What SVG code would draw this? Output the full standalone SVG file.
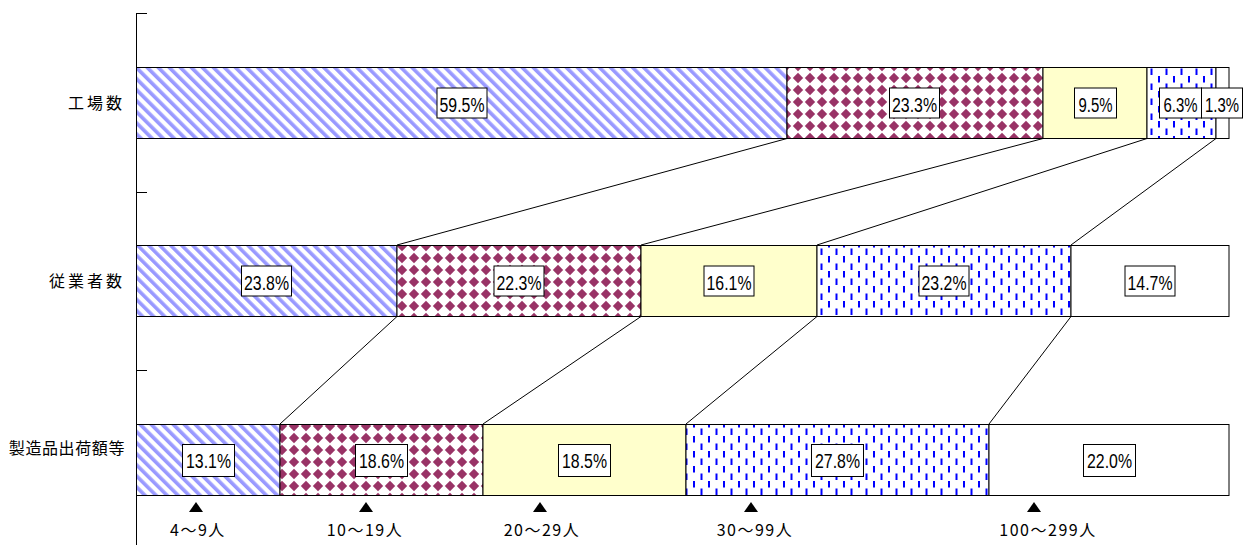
<svg xmlns="http://www.w3.org/2000/svg" width="1248" height="545" viewBox="0 0 1248 545">
<style>
.seg{stroke:#000;stroke-width:1}
.lb{fill:#fff;stroke:#000;stroke-width:1}
.lt{font-family:"Liberation Sans",Arial,sans-serif;font-size:20px;text-anchor:middle;fill:#000}
.cat{font-family:"Noto Sans CJK JP","Noto Sans CJK SC",sans-serif;font-size:16px;text-anchor:end;fill:#000}
.ax{font-family:"Noto Sans CJK JP","Noto Sans CJK SC",sans-serif;font-size:16px;text-anchor:middle;fill:#000;letter-spacing:1.5px}
.cn{stroke:#000;stroke-width:1;fill:none}
</style>
<defs>
<pattern id="stripe" width="7.8" height="7.8" patternUnits="userSpaceOnUse" patternTransform="rotate(-45)"><rect width="7.8" height="7.8" fill="#fff"/><rect width="3.6" height="7.8" fill="#9999ff"/></pattern>
<pattern id="diamond" width="12" height="12" patternUnits="userSpaceOnUse"><rect width="12" height="12" fill="#fff"/><polygon points="6,0.8 11.2,6 6,11.2 0.8,6" fill="#993366"/></pattern>
<pattern id="dash" width="15" height="15" patternUnits="userSpaceOnUse"><rect width="15" height="15" fill="#fff"/><rect x="3" y="1" width="2" height="6.5" fill="#0000ff"/><rect x="10.5" y="8.5" width="2" height="6.5" fill="#0000ff"/></pattern>
<polygon id="tri" points="0,-5 7,5 -7,5" fill="#000"/>
</defs>
<rect width="1248" height="545" fill="#fff"/>
<g id="axis" stroke="#000" stroke-width="1">
<line x1="136.5" y1="13" x2="136.5" y2="545"/>
<line x1="136.5" y1="13.5" x2="147" y2="13.5"/>
<line x1="136.5" y1="192.5" x2="147" y2="192.5"/>
<line x1="136.5" y1="370.5" x2="147" y2="370.5"/>
</g>
<g id="connectors">
<line class="cn" x1="787" y1="138.5" x2="397" y2="245"/>
<line class="cn" x1="1043" y1="138.5" x2="641" y2="245"/>
<line class="cn" x1="1147" y1="138.5" x2="817" y2="245"/>
<line class="cn" x1="1216" y1="138.5" x2="1071" y2="245"/>
<line class="cn" x1="397" y1="316.5" x2="280" y2="424"/>
<line class="cn" x1="641" y1="316.5" x2="483" y2="424"/>
<line class="cn" x1="817" y1="316.5" x2="686" y2="424"/>
<line class="cn" x1="1071" y1="316.5" x2="989" y2="424"/>
</g>
<g id="row1">
<g id="r1s1"><rect class="seg" x="136.5" y="67.5" width="650.5" height="71" fill="url(#stripe)"/></g>
<g id="r1s2"><rect class="seg" x="787" y="67.5" width="256" height="71" fill="url(#diamond)"/></g>
<g id="r1s3"><rect class="seg" x="1043" y="67.5" width="104" height="71" fill="#ffffcc"/></g>
<g id="r1s4"><rect class="seg" x="1147" y="67.5" width="69" height="71" fill="url(#dash)"/></g>
<g id="r1s5"><rect class="seg" x="1216" y="67.5" width="13" height="71" fill="#fff"/></g>
<rect class="lb" x="437" y="88" width="50" height="30"/><text class="lt" x="462" y="112" textLength="45" lengthAdjust="spacingAndGlyphs">59.5%</text>
<rect class="lb" x="889.5" y="88" width="50" height="30"/><text class="lt" x="914.5" y="112" textLength="45" lengthAdjust="spacingAndGlyphs">23.3%</text>
<rect class="lb" x="1074.5" y="88" width="42" height="30"/><text class="lt" x="1095.5" y="112" textLength="34" lengthAdjust="spacingAndGlyphs">9.5%</text>
<rect class="lb" x="1159.5" y="88" width="42" height="30"/><text class="lt" x="1180.5" y="112" textLength="34" lengthAdjust="spacingAndGlyphs">6.3%</text>
<rect class="lb" x="1201.5" y="88" width="41" height="30"/><text class="lt" x="1222" y="112" textLength="34" lengthAdjust="spacingAndGlyphs">1.3%</text>
</g>
<g id="row2">
<g id="r2s1"><rect class="seg" x="136.5" y="245.5" width="260.5" height="71" fill="url(#stripe)"/></g>
<g id="r2s2"><rect class="seg" x="397" y="245.5" width="244" height="71" fill="url(#diamond)"/></g>
<g id="r2s3"><rect class="seg" x="641" y="245.5" width="176" height="71" fill="#ffffcc"/></g>
<g id="r2s4"><rect class="seg" x="817" y="245.5" width="254" height="71" fill="url(#dash)"/></g>
<g id="r2s5"><rect class="seg" x="1071" y="245.5" width="158" height="71" fill="#fff"/></g>
<rect class="lb" x="241.5" y="266" width="50" height="30"/><text class="lt" x="266.5" y="290" textLength="45" lengthAdjust="spacingAndGlyphs">23.8%</text>
<rect class="lb" x="494" y="266" width="50" height="30"/><text class="lt" x="519" y="290" textLength="45" lengthAdjust="spacingAndGlyphs">22.3%</text>
<rect class="lb" x="704" y="266" width="50" height="30"/><text class="lt" x="729" y="290" textLength="45" lengthAdjust="spacingAndGlyphs">16.1%</text>
<rect class="lb" x="919" y="266" width="50" height="30"/><text class="lt" x="944" y="290" textLength="45" lengthAdjust="spacingAndGlyphs">23.2%</text>
<rect class="lb" x="1125" y="266" width="50" height="30"/><text class="lt" x="1150" y="290" textLength="45" lengthAdjust="spacingAndGlyphs">14.7%</text>
</g>
<g id="row3">
<g id="r3s1"><rect class="seg" x="136.5" y="424.5" width="143.5" height="71" fill="url(#stripe)"/></g>
<g id="r3s2"><rect class="seg" x="280" y="424.5" width="203" height="71" fill="url(#diamond)"/></g>
<g id="r3s3"><rect class="seg" x="483" y="424.5" width="203" height="71" fill="#ffffcc"/></g>
<g id="r3s4"><rect class="seg" x="686" y="424.5" width="303" height="71" fill="url(#dash)"/></g>
<g id="r3s5"><rect class="seg" x="989" y="424.5" width="240" height="71" fill="#fff"/></g>
<rect class="lb" x="182.5" y="444.5" width="52" height="32"/><text class="lt" x="208.5" y="468" textLength="45" lengthAdjust="spacingAndGlyphs">13.1%</text>
<rect class="lb" x="355.5" y="444.5" width="52" height="32"/><text class="lt" x="381.5" y="468" textLength="45" lengthAdjust="spacingAndGlyphs">18.6%</text>
<rect class="lb" x="558.5" y="444.5" width="52" height="32"/><text class="lt" x="584.5" y="468" textLength="45" lengthAdjust="spacingAndGlyphs">18.5%</text>
<rect class="lb" x="811.5" y="444.5" width="52" height="32"/><text class="lt" x="837.5" y="468" textLength="45" lengthAdjust="spacingAndGlyphs">27.8%</text>
<rect class="lb" x="1083.5" y="444.5" width="52" height="32"/><text class="lt" x="1109.5" y="468" textLength="45" lengthAdjust="spacingAndGlyphs">22.0%</text>
</g>
<g id="categories">
<text class="cat" x="125" y="109" letter-spacing="3">工場数</text>
<text class="cat" x="125" y="287" letter-spacing="3">従業者数</text>
<text class="cat" x="125" y="454" letter-spacing="0.6">製造品出荷額等</text>
</g>
<g id="sizes">
<g id="k1"><use href="#tri" x="196" y="507"/><text class="ax" x="198" y="536">4～9人</text></g>
<g id="k2"><use href="#tri" x="366" y="507"/><text class="ax" x="365" y="536">10～19人</text></g>
<g id="k3"><use href="#tri" x="540" y="507"/><text class="ax" x="542" y="536">20～29人</text></g>
<g id="k4"><use href="#tri" x="751" y="507"/><text class="ax" x="755" y="536">30～99人</text></g>
<g id="k5"><use href="#tri" x="1034" y="507"/><text class="ax" x="1048" y="536">100～299人</text></g>
</g>
</svg>
